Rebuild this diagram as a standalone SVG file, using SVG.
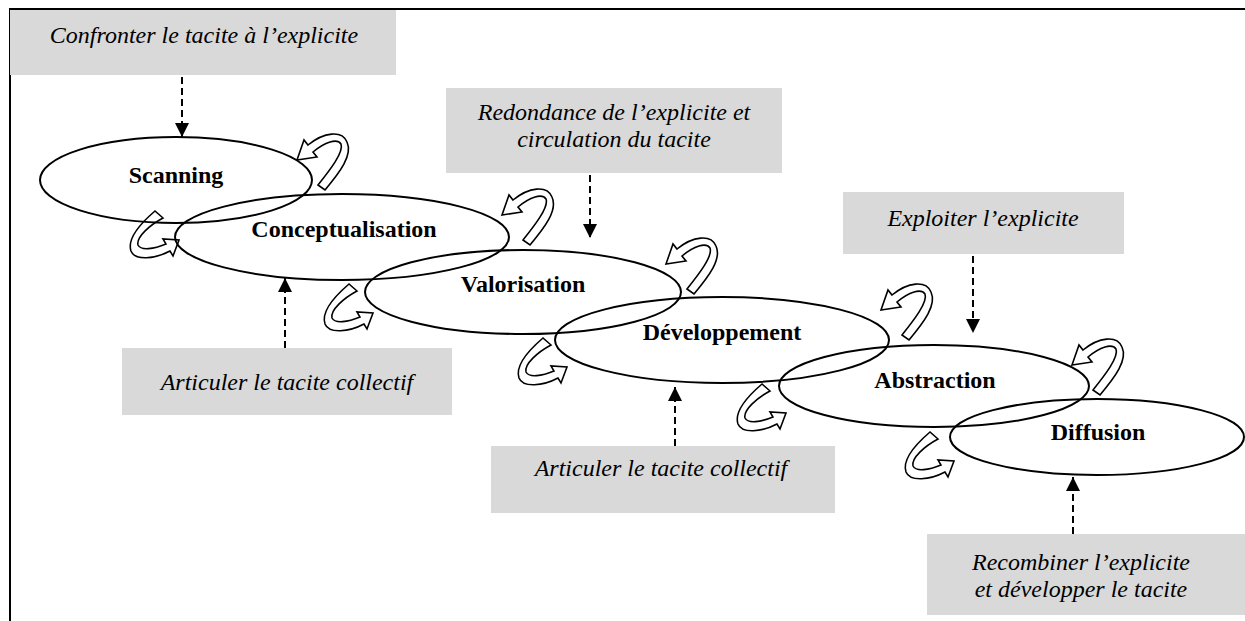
<svg xmlns="http://www.w3.org/2000/svg" width="1245" height="621" viewBox="0 0 1245 621">
<style>
.box{fill:#d9d9d9;stroke:none}
.it{font-family:"Liberation Serif","Times New Roman",serif;font-style:italic;font-size:24px;fill:#000;text-anchor:middle}
.bd{font-family:"Liberation Serif","Times New Roman",serif;font-weight:bold;font-size:24px;fill:#000;text-anchor:middle}
.ell{fill:none;stroke:#000;stroke-width:2}
.dash{fill:none;stroke:#000;stroke-width:2;stroke-dasharray:7 4}
.cyc{fill:none;stroke:#000;stroke-width:1.6;stroke-linejoin:miter}
.frame{fill:none;stroke:#000;stroke-width:2}
</style>
<defs>
<marker id="ah" viewBox="0 0 14 14" refX="14" refY="7" markerWidth="14" markerHeight="14" markerUnits="userSpaceOnUse" orient="auto">
<path d="M0,0 L14,7 L0,14 Z" fill="#000"/>
</marker>
<path id="arrA" class="cyc" d="M 21,25 L 28,30 C 43,12 56,-5 50,-18 C 45,-30 27,-28 11,-15 L 7,-20 L 0,0 L 20,-3 L 16,-8 C 28,-18 40,-22 44,-16 C 47,-8 33,10 21,25 Z"/>
<path id="arrB" class="cyc" d="M -16,-22 L -24,-29 C -38,-17 -52,-1 -48,11 C -44,21 -24,19 -9,11 L -6,16 L 0,0 L -16,-1 L -13,4 C -25,9 -38,11 -41,5 C -43,-3 -29,-15 -16,-22 Z"/>
</defs>
<rect width="1245" height="621" fill="#fff"/>
<path class="frame" d="M 10,621 L 10,9 L 1245,9"/>

<g id="note-confronter">
<rect class="box" x="10" y="10" width="386" height="65"/>
<text class="it" x="204" y="43">Confronter le tacite à l’explicite</text>
</g>
<g id="note-redondance">
<rect class="box" x="446" y="88" width="336" height="85"/>
<text class="it" x="614" y="120">Redondance de l’explicite et</text>
<text class="it" x="614" y="147">circulation du tacite</text>
</g>
<g id="note-exploiter">
<rect class="box" x="843" y="192" width="281" height="62"/>
<text class="it" x="983" y="226">Exploiter l’explicite</text>
</g>
<g id="note-articuler1">
<rect class="box" x="122" y="348" width="330" height="67"/>
<text class="it" x="287" y="390">Articuler le tacite collectif</text>
</g>
<g id="note-articuler2">
<rect class="box" x="491" y="446" width="344" height="67"/>
<text class="it" x="661" y="476">Articuler le tacite collectif</text>
</g>
<g id="note-recombiner">
<rect class="box" x="927" y="534" width="318" height="81"/>
<text class="it" x="1081" y="570">Recombiner l’explicite</text>
<text class="it" x="1081" y="597">et développer le tacite</text>
</g>

<g id="scanning">
<ellipse class="ell" cx="176" cy="180" rx="136" ry="43"/>
<text class="bd" x="176" y="183">Scanning</text>
</g>
<g id="conceptualisation">
<ellipse class="ell" cx="342" cy="237" rx="167" ry="43"/>
<text class="bd" x="344" y="237">Conceptualisation</text>
</g>
<g id="valorisation">
<ellipse class="ell" cx="523" cy="292" rx="158" ry="42"/>
<text class="bd" x="523" y="292">Valorisation</text>
</g>
<g id="developpement">
<ellipse class="ell" cx="722" cy="340" rx="167" ry="43"/>
<text class="bd" x="722" y="340">Développement</text>
</g>
<g id="abstraction">
<ellipse class="ell" cx="934" cy="386" rx="155" ry="41"/>
<text class="bd" x="935" y="388">Abstraction</text>
</g>
<g id="diffusion">
<ellipse class="ell" cx="1097" cy="437" rx="147" ry="38"/>
<text class="bd" x="1098" y="440">Diffusion</text>
</g>

<g id="connectors">
<line class="dash" x1="182" y1="77" x2="182" y2="137" marker-end="url(#ah)"/>
<line class="dash" x1="590" y1="175" x2="590" y2="238" marker-end="url(#ah)"/>
<line class="dash" x1="973" y1="256" x2="973" y2="333" marker-end="url(#ah)"/>
<line class="dash" x1="285" y1="348" x2="285" y2="278" marker-end="url(#ah)"/>
<line class="dash" x1="675" y1="446" x2="675" y2="387" marker-end="url(#ah)"/>
<line class="dash" x1="1073" y1="534" x2="1073" y2="477" marker-end="url(#ah)"/>
<use href="#arrA" transform="translate(297,160)"/>
<use href="#arrA" transform="translate(502,215)"/>
<use href="#arrA" transform="translate(666,264)"/>
<use href="#arrA" transform="translate(881,310)"/>
<use href="#arrA" transform="translate(1072,365)"/>
<use href="#arrB" transform="translate(179,240)"/>
<use href="#arrB" transform="translate(373,313)"/>
<use href="#arrB" transform="translate(567,367)"/>
<use href="#arrB" transform="translate(786,413)"/>
<use href="#arrB" transform="translate(954,461)"/>
</g>
</svg>
